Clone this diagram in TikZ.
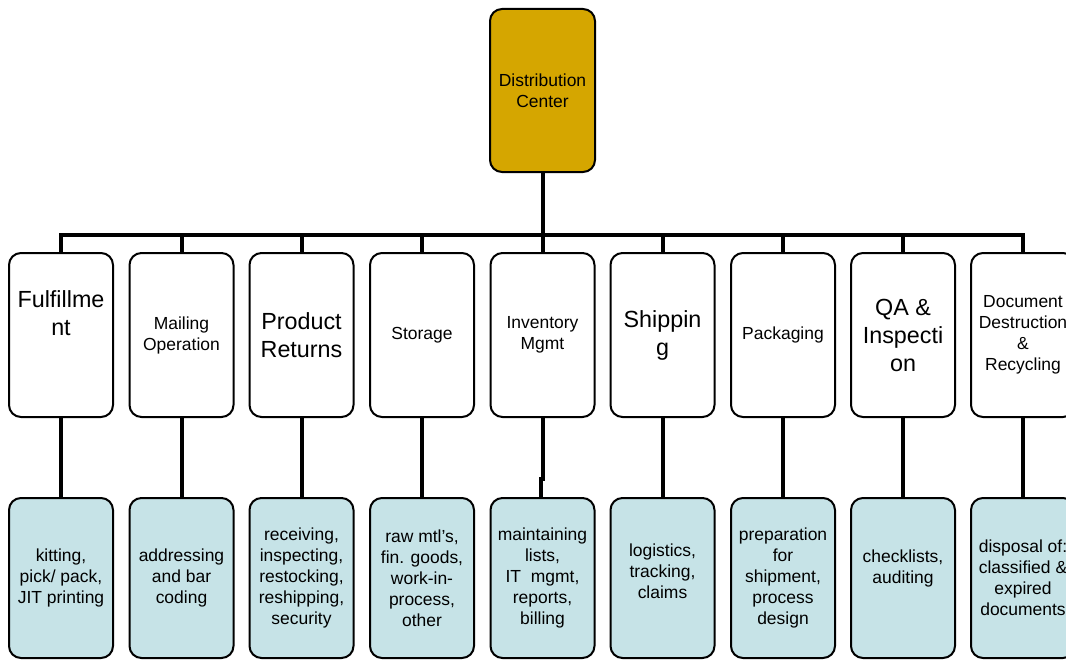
\documentclass[tikz,border=0pt]{standalone}
\usepackage{fontspec}
\setmainfont{Liberation Sans}
\definecolor{dcgold}{HTML}{D5A600}
\definecolor{dcpale}{HTML}{C6E3E7}
\newcommand{\dcbig}{\fontsize{17.5}{21}\selectfont}
\newcommand{\dcsmall}{\fontsize{13.1}{15.75}\selectfont}
\newcommand{\dcdrop}[1]{\rule[-#1]{0pt}{#1}}
\begin{document}
\begin{tikzpicture}[x=0.75pt,y=-0.75pt,
  box/.style={draw, line width=1.5pt, rounded corners=9pt, align=center, inner sep=0pt},
  topbox/.style={box, fill=dcgold, minimum width=78.75pt, minimum height=122.25pt, font=\dcsmall},
  midbox/.style={box, fill=white, minimum width=78pt, minimum height=123pt, font=\dcsmall},
  bigtext/.style={font=\dcbig},
  botbox/.style={box, fill=dcpale, minimum width=78pt, minimum height=120pt, font=\dcsmall},
  conn/.style={line width=3pt}]
\useasboundingbox (0,0) rectangle (1066,660);
\clip (0,0) rectangle (1066,660);

\node[topbox] (top) at (542.5,90.5) {Distribution\\Center};

\node[midbox,bigtext] (m1) at (61,335)   {Fulfillme\\nt\dcdrop{33pt}};
\node[midbox]         (m2) at (181.5,335) {Mailing\\Operation};
\node[midbox,bigtext] (m3) at (301.5,335) {Product\\Returns};
\node[midbox]         (m4) at (422,335)   {Storage};
\node[midbox]         (m5) at (542.5,335) {Inventory\\Mgmt};
\node[midbox,bigtext] (m6) at (662.5,335) {Shippin\\g};
\node[midbox]         (m7) at (783,335)   {Packaging};
\node[midbox,bigtext] (m8) at (903,335)   {QA \&\\Inspecti\\on};
\node[midbox]         (m9) at (1023,335)  {Document\\Destruction\\\&\\Recycling};

\node[botbox] (b1) at (61,578)    {kitting,\\pick/ pack,\\JIT printing};
\node[botbox] (b2) at (181.5,578) {addressing\\and bar\\coding};
\node[botbox] (b3) at (301.5,578) {receiving,\\inspecting,\\restocking,\\reshipping,\\security};
\node[botbox] (b4) at (422,578)   {raw mtl’s,\\fin. goods,\\work-in-\\process,\\other};
\node[botbox] (b5) at (542.5,578) {maintaining\\lists,\\IT\ \ mgmt,\\reports,\\billing};
\node[botbox] (b6) at (662.5,578) {logistics,\\tracking,\\claims\dcdrop{10.5pt}};
\node[botbox] (b7) at (783,578)   {preparation\\for\\shipment,\\process\\design};
\node[botbox] (b8) at (903,578)   {checklists,\\auditing\dcdrop{17.5pt}};
\node[botbox] (b9) at (1023,578)  {disposal of:\\classified \&\\expired\\documents};

\coordinate (bus) at (542.5,235);

\draw[conn] (top.south) -- (top.south |- bus);
\draw[conn] (m1.north) -- (m1.north |- bus) -- (m9.north |- bus) -- (m9.north);
\foreach \i in {2,...,8} {
  \draw[conn] (m\i.north) -- (m\i.north |- bus);
}
\foreach \i in {1,2,3,4,6,7,8,9} {
  \draw[conn] (m\i.south) -- (b\i.north);
}
\draw[conn] (m5.south) -- ++(0,61) -| ([xshift=-1.5pt]b5.north);
\end{tikzpicture}
\end{document}
